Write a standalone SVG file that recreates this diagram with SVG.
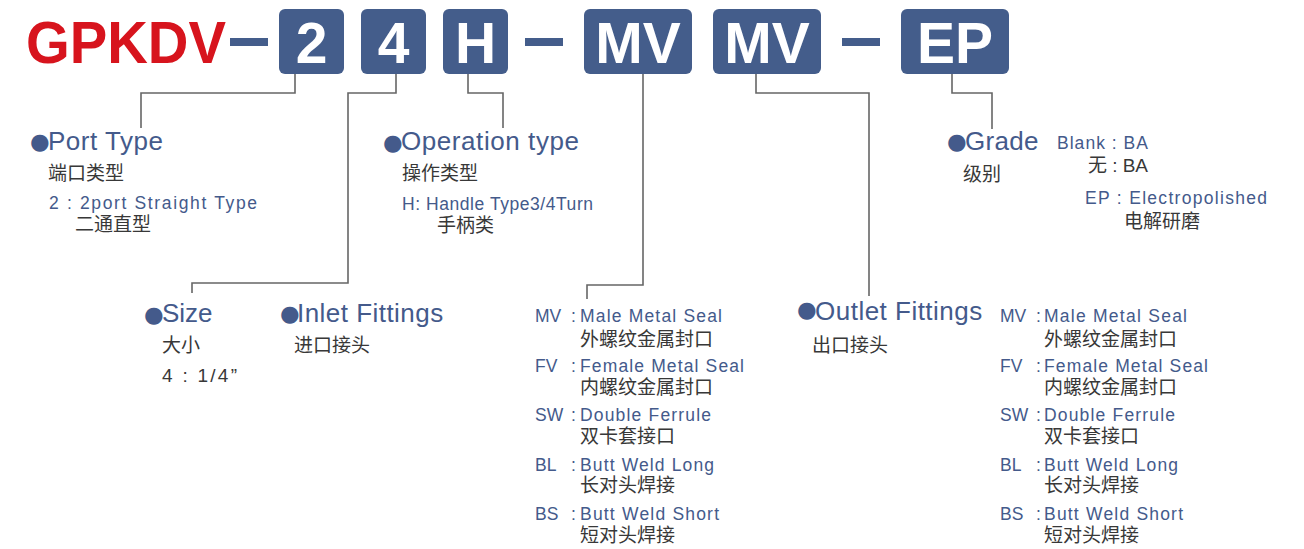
<svg xmlns="http://www.w3.org/2000/svg" width="1304" height="549" viewBox="0 0 1304 549">
<style>
.box{fill:#445d8b}
.bt{font-family:"Liberation Sans",Arial,sans-serif;font-weight:bold;font-size:57px;fill:#fff;text-anchor:middle}
.dash{fill:#445d8b}
.conn{fill:none;stroke:#666;stroke-width:1.6}
.lbl{font-family:"Liberation Sans",Arial,sans-serif;font-size:26px;fill:#445a8b}
.bul{font-family:"DejaVu Sans",sans-serif;font-size:22.5px}
.en{font-family:"Liberation Sans",Arial,sans-serif;font-size:17.5px;fill:#445a8b}
.cn{font-family:"Liberation Sans","Noto Sans CJK SC",sans-serif;font-size:19px;fill:#383838}
</style>
<rect width="1304" height="549" fill="#fff"/>
<g id="title">
<text x="26" y="63" font-family="Liberation Sans,Arial,sans-serif" font-weight="bold" font-size="60" fill="#d7141d" textLength="200" lengthAdjust="spacingAndGlyphs">GPKDV</text>
<rect class="dash" x="230" y="38" width="38" height="8"/>
<rect class="dash" x="525" y="38" width="38" height="8"/>
<rect class="dash" x="842" y="38" width="38" height="8"/>
</g>
<g id="box-2"><rect class="box" x="279" y="9" width="65" height="65" rx="6"/><text class="bt" x="311.5" y="63">2</text></g>
<g id="box-4"><rect class="box" x="361" y="9" width="65" height="65" rx="6"/><text class="bt" x="393.5" y="63">4</text></g>
<g id="box-h"><rect class="box" x="443" y="9" width="65" height="65" rx="6"/><text class="bt" x="475.5" y="63">H</text></g>
<g id="box-mv1"><rect class="box" x="584" y="9" width="108" height="65" rx="6"/><text class="bt" x="638" y="63">MV</text></g>
<g id="box-mv2"><rect class="box" x="713" y="9" width="108" height="65" rx="6"/><text class="bt" x="767" y="63">MV</text></g>
<g id="box-ep"><rect class="box" x="901" y="9" width="108" height="65" rx="6"/><text class="bt" x="955" y="63">EP</text></g>
<g id="connectors">
<path class="conn" d="M295 74V93H141V128"/>
<path class="conn" d="M396 74V93H348V283H192V293"/>
<path class="conn" d="M468 74V93H503V128"/>
<path class="conn" d="M643 74V285H587V299"/>
<path class="conn" d="M756 74V93H869V296"/>
<path class="conn" d="M952 74V93H992V129"/>
</g>
<g id="port-type">
<text class="lbl"><tspan class="bul" x="30" y="149.1">●</tspan><tspan x="48" y="150" letter-spacing="0.53">Port Type</tspan></text>
<text class="cn" x="48" y="179.5">端口类型</text>
<text class="en" x="49" y="209" textLength="208" lengthAdjust="spacing">2 : 2port Straight Type</text>
<text class="cn" x="75" y="230.5">二通直型</text>
</g>
<g id="operation-type">
<text class="lbl"><tspan class="bul" x="383" y="149.6">●</tspan><tspan x="401" y="150" letter-spacing="0.57">Operation type</tspan></text>
<text class="cn" x="402" y="179.5">操作类型</text>
<text class="en" x="402" y="210" textLength="191" lengthAdjust="spacing">H: Handle Type3/4Turn</text>
<text class="cn" x="437" y="232">手柄类</text>
</g>
<g id="grade">
<text class="lbl"><tspan class="bul" x="947" y="149.1">●</tspan><tspan x="965" y="150" letter-spacing="0.3">Grade</tspan></text>
<text class="cn" x="963" y="181">级别</text>
<text class="en" x="1057" y="149" textLength="91" lengthAdjust="spacing">Blank : BA</text>
<text class="cn" x="1088" y="172" textLength="60" lengthAdjust="spacing">无 : BA</text>
<text class="en" x="1085" y="204" textLength="182" lengthAdjust="spacing">EP : Electropolished</text>
<text class="cn" x="1124" y="227.5">电解研磨</text>
</g>
<g id="size">
<text class="lbl"><tspan class="bul" x="144" y="321.6">●</tspan><tspan x="162" y="322">Size</tspan></text>
<text class="cn" x="162" y="352">大小</text>
<text class="cn" x="162" y="382" textLength="75" lengthAdjust="spacing">4 : 1/4”</text>
</g>
<g id="inlet-fittings">
<text class="lbl"><tspan class="bul" x="280" y="320.6">●</tspan><tspan x="297" y="321.5" letter-spacing="0.46">Inlet Fittings</tspan></text>
<text class="cn" x="294" y="352">进口接头</text>
<g class="en">
<text x="535" y="322">MV</text><text x="571" y="322">:</text><text x="580" y="322" textLength="142" lengthAdjust="spacing">Male Metal Seal</text>
<text x="535" y="371.5">FV</text><text x="571" y="371.5">:</text><text x="580" y="371.5" textLength="164" lengthAdjust="spacing">Female Metal Seal</text>
<text x="535" y="421">SW</text><text x="571" y="421">:</text><text x="580" y="421" textLength="131" lengthAdjust="spacing">Double Ferrule</text>
<text x="535" y="470.5">BL</text><text x="571" y="470.5">:</text><text x="580" y="470.5" textLength="134" lengthAdjust="spacing">Butt Weld Long</text>
<text x="535" y="520">BS</text><text x="571" y="520">:</text><text x="580" y="520" textLength="139" lengthAdjust="spacing">Butt Weld Short</text>
</g>
<g class="cn">
<text x="580" y="345.5">外螺纹金属封口</text>
<text x="580" y="394">内螺纹金属封口</text>
<text x="580" y="443">双卡套接口</text>
<text x="580" y="492">长对头焊接</text>
<text x="580" y="541.5">短对头焊接</text>
</g>
</g>
<g id="outlet-fittings">
<text class="lbl"><tspan class="bul" x="797" y="317.1">●</tspan><tspan x="815" y="320" letter-spacing="0.49">Outlet Fittings</tspan></text>
<text class="cn" x="812" y="352">出口接头</text>
<g class="en">
<text x="1000" y="322">MV</text><text x="1036" y="322">:</text><text x="1044" y="322" textLength="143" lengthAdjust="spacing">Male Metal Seal</text>
<text x="1000" y="371.5">FV</text><text x="1036" y="371.5">:</text><text x="1044" y="371.5" textLength="164" lengthAdjust="spacing">Female Metal Seal</text>
<text x="1000" y="421">SW</text><text x="1036" y="421">:</text><text x="1044" y="421" textLength="131" lengthAdjust="spacing">Double Ferrule</text>
<text x="1000" y="470.5">BL</text><text x="1036" y="470.5">:</text><text x="1044" y="470.5" textLength="134" lengthAdjust="spacing">Butt Weld Long</text>
<text x="1000" y="520">BS</text><text x="1036" y="520">:</text><text x="1044" y="520" textLength="139" lengthAdjust="spacing">Butt Weld Short</text>
</g>
<g class="cn">
<text x="1044" y="345.5">外螺纹金属封口</text>
<text x="1044" y="394">内螺纹金属封口</text>
<text x="1044" y="443">双卡套接口</text>
<text x="1044" y="492">长对头焊接</text>
<text x="1044" y="541.5">短对头焊接</text>
</g>
</g>
</svg>
